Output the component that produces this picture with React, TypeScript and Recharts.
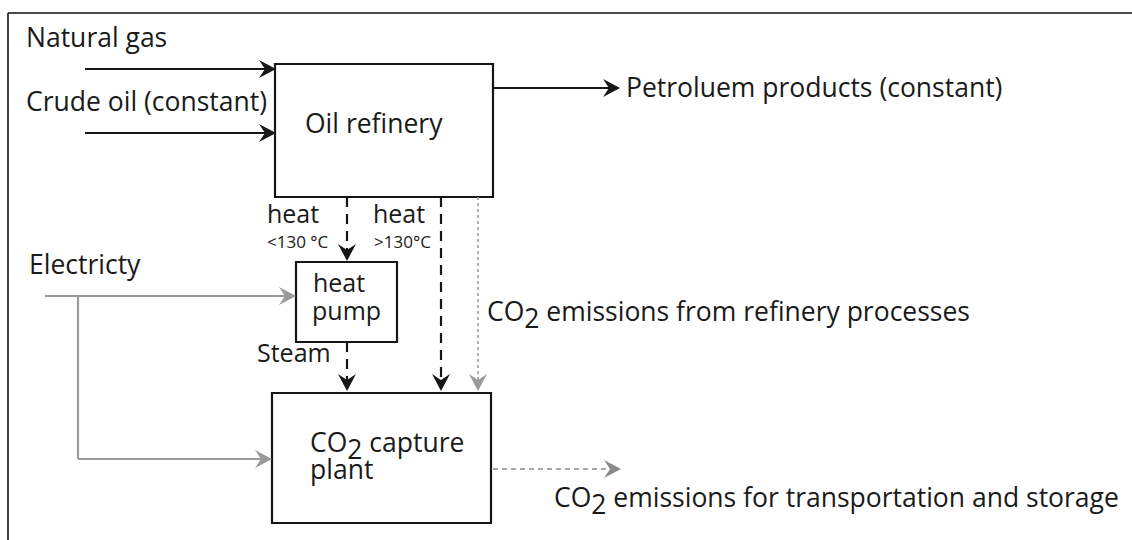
import React from "react";
import { ComposedChart, XAxis, YAxis, ReferenceArea, ReferenceLine, ReferenceDot } from "recharts";

const W = 1132;
const H = 540;
const FONT = "'Open Sans', sans-serif";

// process units (diagram coordinates)
const boxes = [
  { id: "refinery", x1: 275, x2: 493, y1: 64, y2: 197 },
  { id: "pump", x1: 296, x2: 397, y1: 262, y2: 342 },
  { id: "capture", x1: 272, x2: 491, y1: 393, y2: 523 },
];

// flows: polyline points, arrow head at the last point
const flows = [
  { id: "gas", kind: "solid", pts: [[85, 69], [276, 69]] },
  { id: "crude", kind: "solid", pts: [[85, 133], [276, 133]] },
  { id: "products", kind: "solid", pts: [[493, 88], [620, 88]] },
  { id: "heatLow", kind: "dashed", pts: [[347, 197], [347, 261]] },
  { id: "heatHigh", kind: "dashed", pts: [[441, 197], [441, 391]] },
  { id: "co2Ref", kind: "dotted", pts: [[478, 197], [478, 391]] },
  { id: "steam", kind: "dashed", pts: [[347, 342], [347, 391]] },
  { id: "elecPump", kind: "grey", pts: [[45, 296], [296, 296]] },
  { id: "elecCapture", kind: "grey", pts: [[78, 296], [78, 459], [272, 459]] },
  { id: "co2Out", kind: "greyDash", pts: [[493, 469], [621, 469]] },
];

// texts: "_" marks the next character as subscript
const labels = [
  { text: "Natural gas", x: 26, y: 47, size: 26.5 },
  { text: "Crude oil (constant)", x: 26, y: 111, size: 26.5 },
  { text: "Oil refinery", x: 305, y: 133, size: 26.5 },
  { text: "Petroluem products (constant)", x: 626, y: 97, size: 26.5 },
  { text: "heat", x: 267, y: 223, size: 25 },
  { text: "<130 °C", x: 267, y: 248, size: 17 },
  { text: "heat", x: 373, y: 223, size: 25 },
  { text: ">130°C", x: 374, y: 248, size: 17 },
  { text: "Electricty", x: 29, y: 274, size: 26.5 },
  { text: "heat", x: 313, y: 292, size: 25 },
  { text: "pump", x: 312, y: 320, size: 25 },
  { text: "Steam", x: 257, y: 362, size: 25 },
  { text: "CO_2 emissions from refinery processes", x: 487, y: 321, size: 26.5 },
  { text: "CO_2 capture", x: 310, y: 452, size: 26.5 },
  { text: "plant", x: 310, y: 479, size: 26.5 },
  { text: "CO_2 emissions for transportation and storage", x: 554, y: 507, size: 26.5 },
];

const frame = [[8, 540], [8, 13], [1132, 13]];

const flowStyle: Record<string, { stroke: string; width: number; dash?: string }> = {
  solid: { stroke: "#161616", width: 2.2 },
  dashed: { stroke: "#161616", width: 2.2, dash: "10 7" },
  dotted: { stroke: "#9a9a9a", width: 1.6, dash: "3 3" },
  grey: { stroke: "#9a9a9a", width: 2.2 },
  greyDash: { stroke: "#8a8a8a", width: 1.6, dash: "5 4" },
};

const Head = ({ cx, cy, angle, color }: any) => (
  <path d="M0,0 L-17,-9 L-11,0 L-17,9 Z" transform={`translate(${cx},${cy}) rotate(${angle})`} fill={color} />
);

const Label = ({ cx, cy, text, size }: any) => {
  const i = text.indexOf("_");
  return (
    <text x={cx} y={cy} fontSize={size} fontFamily={FONT} fill="#1a1a1a">
      {i < 0 ? (
        text
      ) : (
        <>
          <tspan>{text.slice(0, i)}</tspan>
          <tspan dy={7}>{text[i + 1]}</tspan>
          <tspan dy={-7}>{text.slice(i + 2)}</tspan>
        </>
      )}
    </text>
  );
};

export default function App() {
  return (
    <div style={{ position: "absolute", left: 0, top: 0, width: W, height: H, background: "#fff" }}>
      <ComposedChart width={W} height={H} data={[]} margin={{ top: 0, right: 0, bottom: 0, left: 0 }}>
        <XAxis type="number" dataKey="x" domain={[0, W]} hide allowDataOverflow />
        <YAxis type="number" dataKey="y" domain={[0, H]} reversed hide allowDataOverflow />
        {frame.slice(1).map((p, i) => (
          <ReferenceLine
            key={`f${i}`}
            segment={[{ x: frame[i][0], y: frame[i][1] }, { x: p[0], y: p[1] }]}
            stroke="#111"
            strokeWidth={1.6}
            ifOverflow="visible"
          />
        ))}
        {boxes.map((b) => (
          <ReferenceArea
            key={b.id}
            x1={b.x1}
            x2={b.x2}
            y1={b.y1}
            y2={b.y2}
            fill="#fff"
            fillOpacity={1}
            stroke="#161616"
            strokeWidth={2.2}
            ifOverflow="visible"
          />
        ))}
        {flows.map((f) => {
          const s = flowStyle[f.kind];
          const n = f.pts.length;
          const [ax, ay] = f.pts[n - 2];
          const [bx, by] = f.pts[n - 1];
          const len = Math.hypot(bx - ax, by - ay);
          const angle = (Math.atan2(by - ay, bx - ax) * 180) / Math.PI;
          const pts = f.pts.map((p, k) =>
            k === n - 1 ? [bx - ((bx - ax) / len) * 11, by - ((by - ay) / len) * 11] : p
          );
          return (
            <React.Fragment key={f.id}>
              {pts.slice(1).map((p, k) => (
                <ReferenceLine
                  key={`${f.id}${k}`}
                  segment={[{ x: pts[k][0], y: pts[k][1] }, { x: p[0], y: p[1] }]}
                  stroke={s.stroke}
                  strokeWidth={s.width}
                  strokeDasharray={s.dash}
                  ifOverflow="visible"
                />
              ))}
              <ReferenceDot
                x={bx}
                y={by}
                r={0}
                ifOverflow="visible"
                shape={(p: any) => <Head cx={p.cx} cy={p.cy} angle={angle} color={s.stroke} />}
              />
            </React.Fragment>
          );
        })}
        {labels.map((l, i) => (
          <ReferenceDot
            key={`l${i}`}
            x={l.x}
            y={l.y}
            r={0}
            ifOverflow="visible"
            shape={(p: any) => <Label cx={p.cx} cy={p.cy} text={l.text} size={l.size} />}
          />
        ))}
      </ComposedChart>
    </div>
  );
}
